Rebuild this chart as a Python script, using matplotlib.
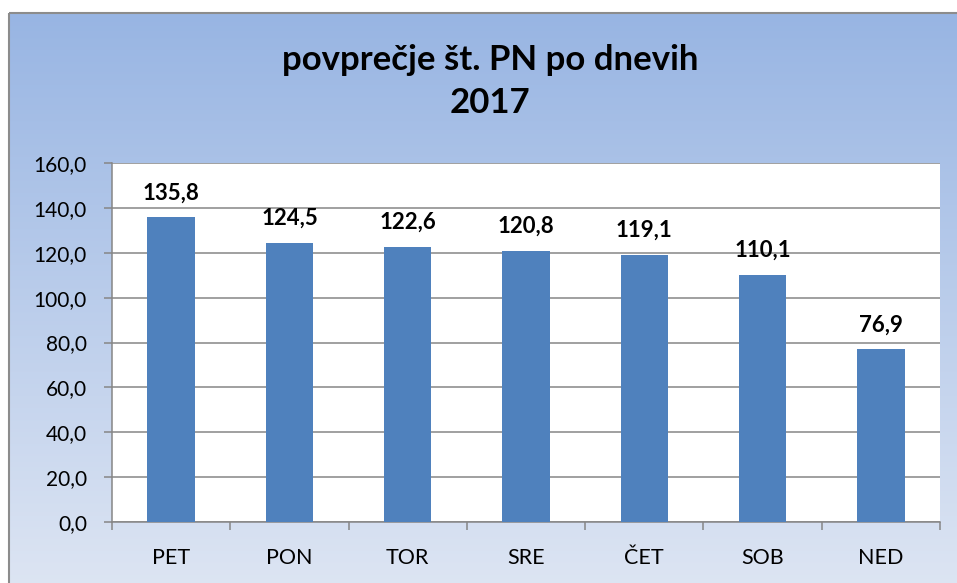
import numpy as np
import matplotlib
matplotlib.use("Agg")
import matplotlib.pyplot as plt
from matplotlib.patches import Rectangle
from matplotlib.ticker import FixedLocator

plt.rcParams['font.family'] = ['Lato', 'DejaVu Sans']

# average number per weekday, 2017
days = ["PET", "PON", "TOR", "SRE", "ČET", "SOB", "NED"]
averages = [135.8, 124.5, 122.6, 120.8, 119.1, 110.1, 76.9]
y_ticks = [0, 20, 40, 60, 80, 100, 120, 140, 160]

W, H = 957, 583
fig = plt.figure(figsize=(W / 100, H / 100), dpi=100)

# background with vertical gradient
bg = fig.add_axes([0, 0, 1, 1])
bg.set_xlim(0, W)
bg.set_ylim(H, 0)
bg.axis("off")
top = np.array([152, 181, 227]) / 255
bottom = np.array([221, 229, 243]) / 255
t = np.linspace(0, 1, 256)[:, None]
grad = top + (bottom - top) * t
grad = grad[:, None, :].repeat(2, axis=1)
bg.imshow(grad, extent=(9, W + 5, H + 5, 13), aspect="auto", zorder=0)
bg.add_patch(Rectangle((9, 13), W, H, fill=False, edgecolor="#8c8c8c",
                       linewidth=1.5, zorder=1))

bg.text(490, 60, "povprečje št. PN po dnevih", ha="center", va="center",
        fontsize=25, fontweight="bold")
bg.text(490, 103, "2017", ha="center", va="center",
        fontsize=25, fontweight="bold")

# plot area
left, right, ptop, pbot = 112, 940, 163, 522
ax = fig.add_axes([left / W, 1 - pbot / H, (right - left) / W, (pbot - ptop) / H])
ax.set_facecolor("white")

x = np.arange(len(days))
bars = ax.bar(x, averages, width=0.4, color="#4F81BD", zorder=3)
for xi, v in zip(x, averages):
    ax.annotate(f"{v:.1f}".replace(".", ","), (xi, v), xytext=(0, 10),
                textcoords="offset points", ha="center", va="bottom",
                fontsize=16, fontweight="bold")

ax.set_xlim(-0.5, len(days) - 0.5)
ax.set_ylim(0, 160)
ax.set_yticks(y_ticks)
ax.set_yticklabels([f"{v:.1f}".replace(".", ",") for v in y_ticks], fontsize=15)
ax.set_xticks(x)
ax.set_xticklabels(days, fontsize=15.5)
ax.xaxis.set_minor_locator(FixedLocator(np.arange(-0.5, len(days), 1.0)))

ax.grid(axis="y", color="#868686", linewidth=1.1, zorder=0)
for s in ["top", "right"]:
    ax.spines[s].set_visible(False)
for s in ["left", "bottom"]:
    ax.spines[s].set_color("#868686")
    ax.spines[s].set_linewidth(1.1)
ax.tick_params(axis="y", length=6, color="#868686", width=1.1, pad=12)
ax.tick_params(axis="x", which="major", length=0, pad=19)
ax.tick_params(axis="x", which="minor", length=6, color="#868686", width=1.1)

fig.savefig("out.png", dpi=100)
